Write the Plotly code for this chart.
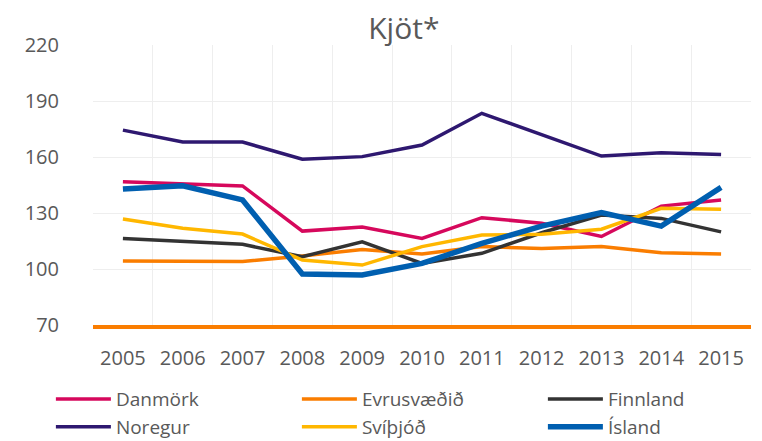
import plotly.graph_objects as go

years = ["2005", "2006", "2007", "2008", "2009", "2010", "2011", "2012", "2013", "2014", "2015"]
danmork = [146.8, 145.5, 144.5, 120.3, 122.5, 116.4, 127.5, 124.5, 117.4, 133.7, 137.0]
evrusvaedid = [104.3, 104.3, 104.0, 107.0, 110.5, 108.0, 112.0, 111.0, 112.0, 108.7, 108.0]
finnland = [116.4, 114.6, 113.2, 106.6, 114.6, 103.0, 108.4, 119.4, 128.9, 127.1, 119.9]
noregur = [174.4, 168.0, 168.0, 158.8, 160.2, 166.4, 183.4, 171.8, 160.5, 162.3, 161.4]
svithjod = [126.8, 121.8, 118.7, 104.8, 102.1, 112.0, 118.2, 118.6, 121.3, 132.5, 132.0]
island = [142.8, 144.6, 137.0, 97.3, 96.8, 103.0, 113.7, 123.0, 130.2, 123.0, 143.7]
y_ticks = [70, 100, 130, 160, 190, 220]

series = [
    ("Danmörk", danmork, "#d6085c", 3.5),
    ("Evrusvæðið", evrusvaedid, "#fa7d00", 3.5),
    ("Finnland", finnland, "#333333", 3.5),
    ("Noregur", noregur, "#2e1870", 3.5),
    ("Svíþjóð", svithjod, "#ffb700", 3.5),
    ("Ísland", island, "#005fb0", 5.5),
]

fig = go.Figure()
for name, vals, color, w in series:
    fig.add_trace(go.Scatter(x=years, y=vals, name=name, mode="lines",
                             line=dict(color=color, width=w)))

font_family = "Open Sans, sans-serif"
fig.update_layout(
    width=762, height=441,
    margin=dict(l=93, r=11, t=45, b=116, autoexpand=False),
    paper_bgcolor="white", plot_bgcolor="white",
    font=dict(family=font_family, color="#595959", size=20),
    title=dict(text="Kjöt*", x=0.53, xanchor="center", y=0.935, yanchor="middle",
               font=dict(size=30, color="#595959")),
    showlegend=True,
    legend=dict(orientation="h", x=-0.064, xanchor="left", y=-0.197, yanchor="top",
                entrywidth=176, entrywidthmode="pixels", itemwidth=55,
                tracegroupgap=0, font=dict(size=19, color="#595959")),
)
fig.update_xaxes(type="category", tickson="boundaries", showgrid=True,
                 gridcolor="#eeeeee", gridwidth=1, showline=True,
                 linecolor="#fa7d00", linewidth=4, ticks="", range=[-0.5, 10.5],
                 ticklabelstandoff=12, tickfont=dict(size=20))
fig.update_yaxes(range=[70, 220], tickvals=y_ticks, showgrid=True,
                 gridcolor="#eeeeee", gridwidth=1, zeroline=False, showline=False,
                 ticks="", ticklabelstandoff=33, tickfont=dict(size=20))

fig.write_html("out.html", config={"displayModeBar": False},
               post_script="document.body.style.margin='0';document.body.style.overflow='hidden';")
